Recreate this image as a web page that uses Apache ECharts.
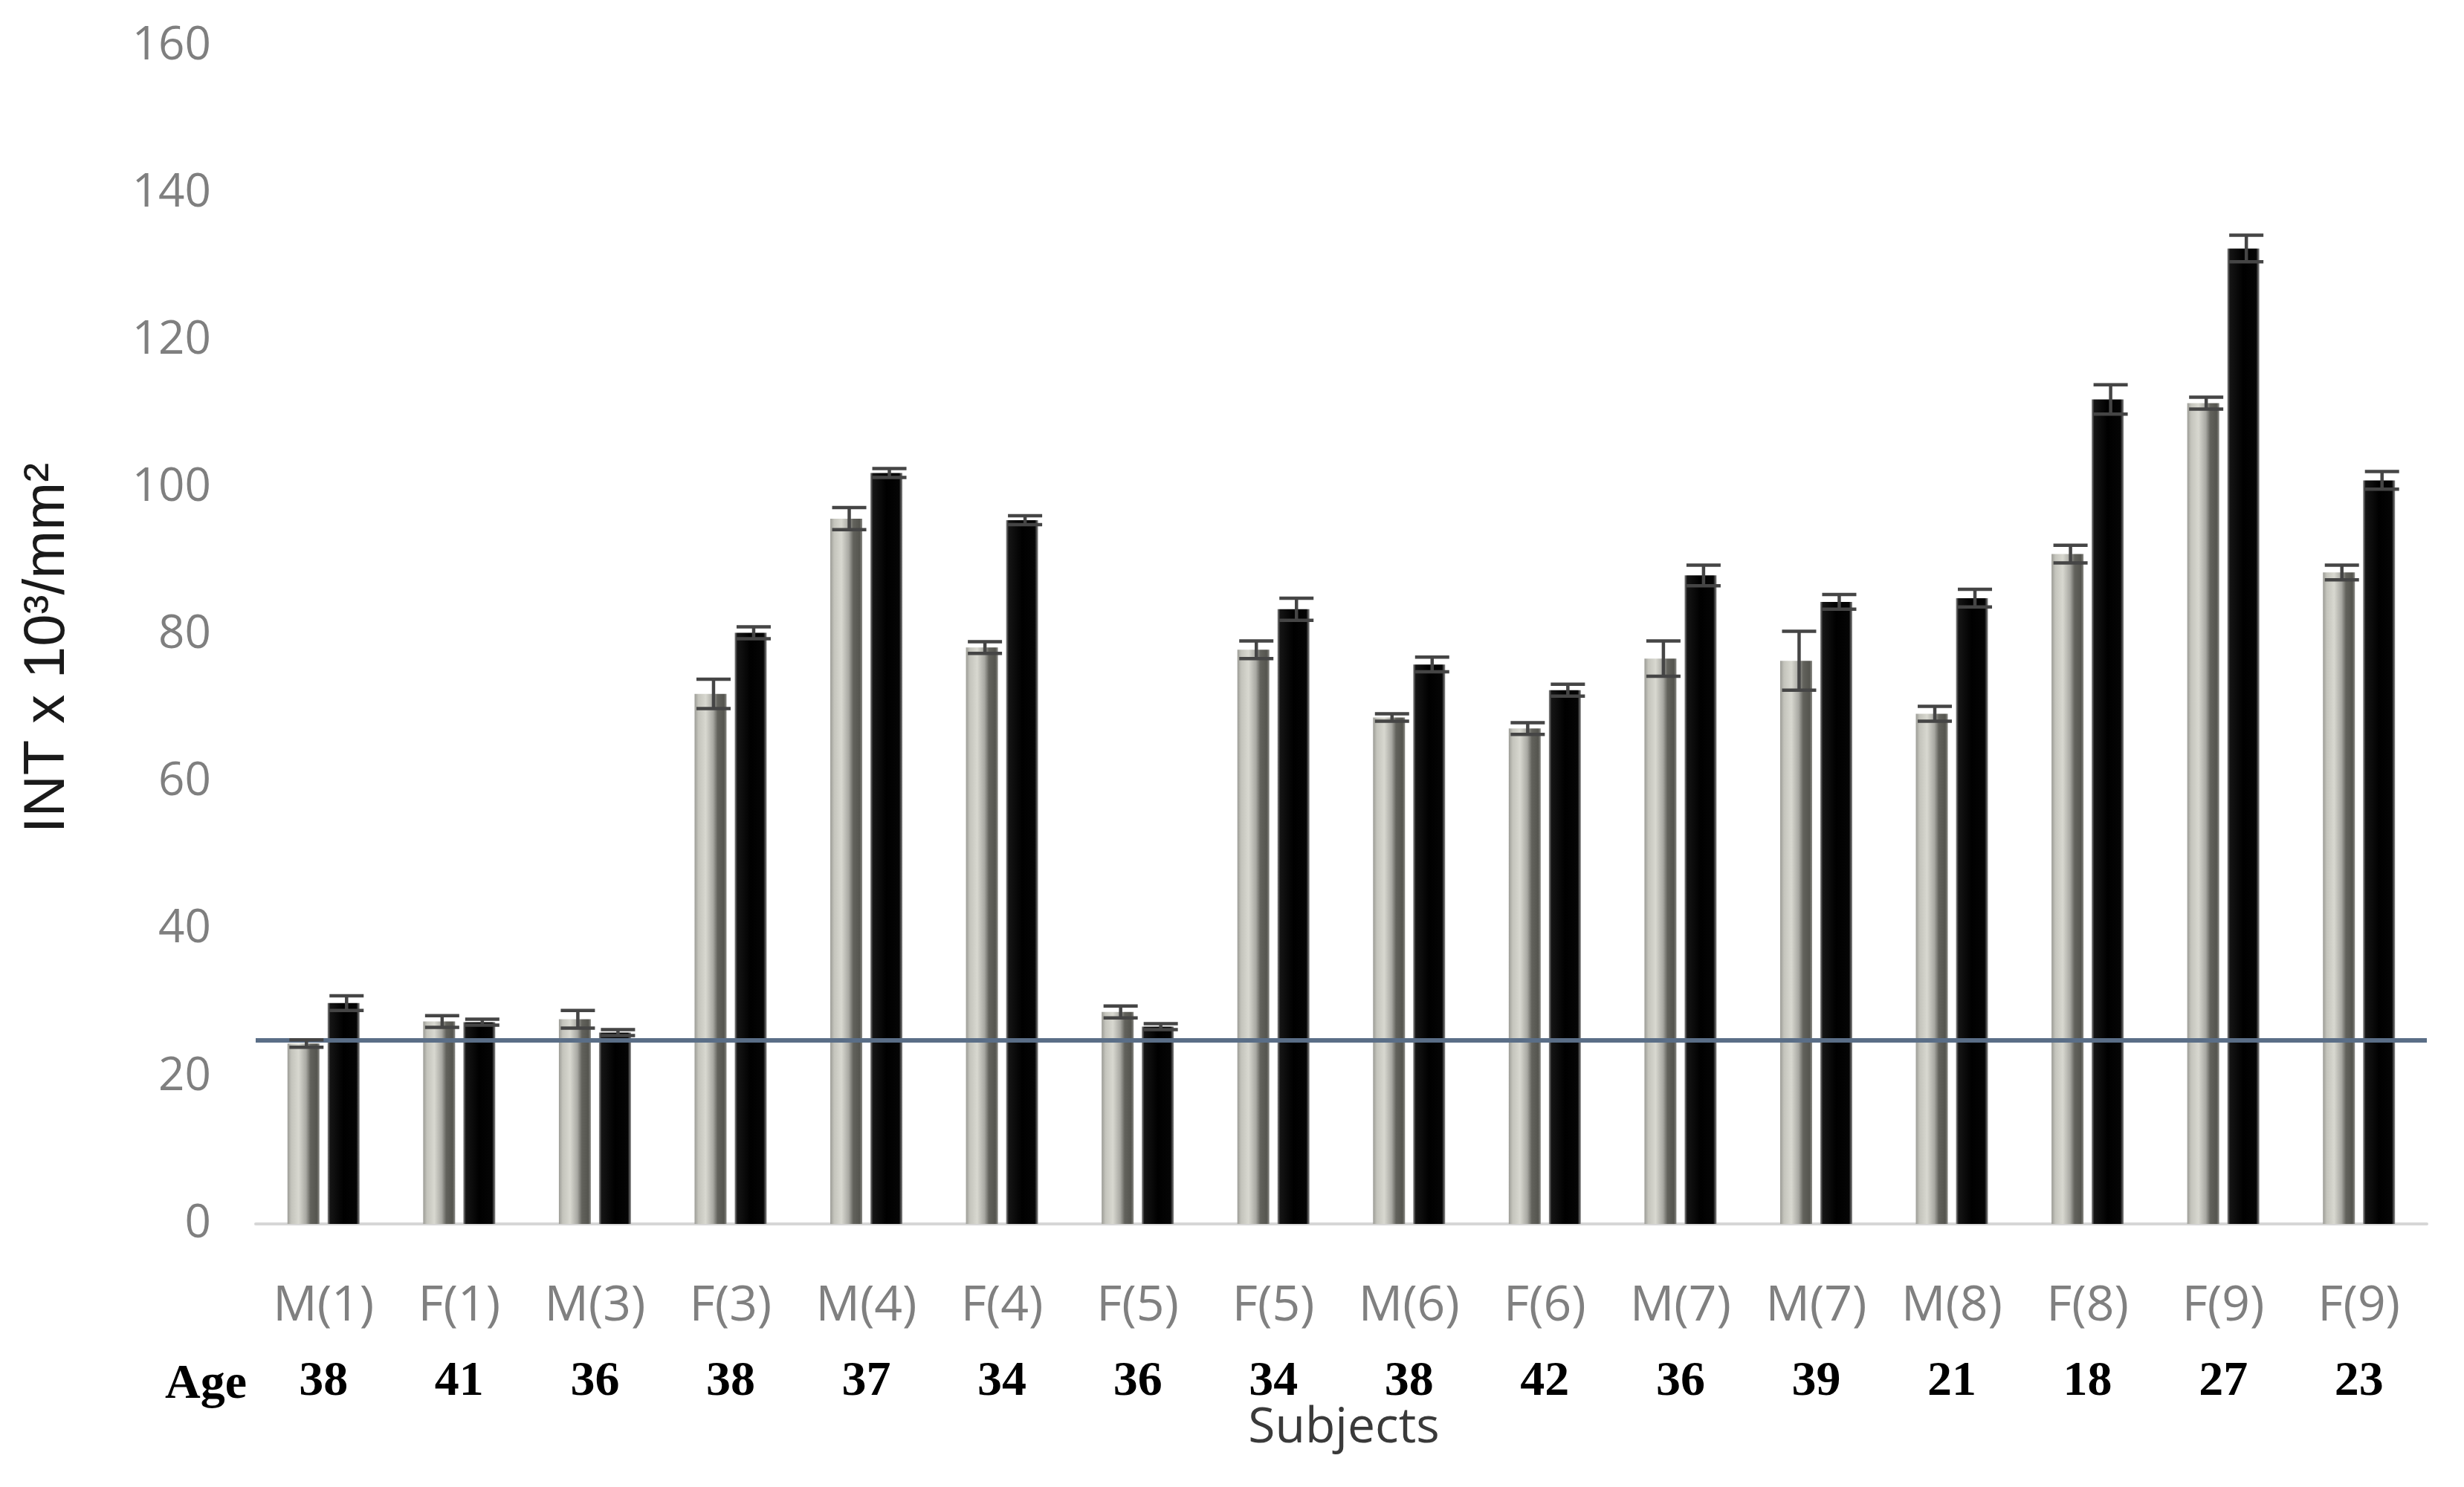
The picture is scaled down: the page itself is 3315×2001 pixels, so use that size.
<!DOCTYPE html>
<html>
<head>
<meta charset="utf-8">
<script src="https://cdn.jsdelivr.net/npm/echarts@6/dist/echarts.min.js"></script>
<style>
  html, body { margin: 0; padding: 0; background: #ffffff; }
  #chart { width: 3315px; height: 2001px; }
</style>
</head>
<body>
<div id="chart"></div>
<script>
// ---- data ----
const subjects = ['M(1)', 'F(1)', 'M(3)', 'F(3)', 'M(4)', 'F(4)', 'F(5)', 'F(5)', 'M(6)', 'F(6)', 'M(7)', 'M(7)', 'M(8)', 'F(8)', 'F(9)', 'F(9)'];
const ages = ['38', '41', '36', '38', '37', '34', '36', '34', '38', '42', '36', '39', '21', '18', '27', '23'];
const grayValues = [24.5, 27.5, 27.8, 72, 95.8, 78.3, 28.8, 78, 68.8, 67.3, 76.8, 76.5, 69.3, 91, 111.5, 88.5];
const grayErrors = [0.5, 0.8, 1.2, 2, 1.5, 0.8, 0.8, 1.2, 0.5, 0.8, 2.4, 4, 1, 1.2, 0.8, 1];
const blackValues = [30, 27.4, 26, 80.3, 102, 95.6, 26.8, 83.5, 76, 72.5, 88.1, 84.5, 85, 112, 132.5, 101];
const blackErrors = [1, 0.4, 0.4, 0.8, 0.6, 0.6, 0.4, 1.5, 1, 0.8, 1.4, 1, 1.2, 2, 1.8, 1.2];
const thresholdValue = 25;
const yTicks = { min: 0, max: 160, interval: 20 };

// ---- styles ----
const BAR_W = 43;
const BAR_GAP = 11;
const grayFill = {
  type: 'linear', x: 0, y: 0, x2: 1, y2: 0,
  colorStops: [
    { offset: 0, color: '#9c9c96' },
    { offset: 0.12, color: '#c4c4bc' },
    { offset: 0.35, color: '#d8d8d0' },
    { offset: 0.58, color: '#a8a8a2' },
    { offset: 0.72, color: '#62625c' },
    { offset: 0.92, color: '#55554f' },
    { offset: 1, color: '#8a8a85' }
  ]
};
const blackFill = {
  type: 'linear', x: 0, y: 0, x2: 1, y2: 0,
  colorStops: [
    { offset: 0, color: '#8c8c8c' },
    { offset: 0.08, color: '#151515' },
    { offset: 0.5, color: '#000000' },
    { offset: 0.9, color: '#050505' },
    { offset: 1, color: '#8c8c8c' }
  ]
};

function errorRenderer(offsetSign) {
  return function (params, api) {
    const idx = api.value(0), v = api.value(1), e = api.value(2);
    const c = api.coord([idx, v]);
    const top = api.coord([idx, v + e]);
    const bot = api.coord([idx, v - e]);
    const x = c[0] + offsetSign * (BAR_W + BAR_GAP) / 2 + 4;
    const half = 23;
    const st = { stroke: '#454545', lineWidth: 4.5 };
    return {
      type: 'group',
      children: [
        { type: 'line', shape: { x1: x, y1: top[1], x2: x, y2: bot[1] }, style: st },
        { type: 'line', shape: { x1: x - half, y1: top[1], x2: x + half, y2: top[1] }, style: st },
        { type: 'line', shape: { x1: x - half, y1: bot[1], x2: x + half, y2: bot[1] }, style: st }
      ]
    };
  };
}

const chart = echarts.init(document.getElementById('chart'), null, { renderer: 'canvas' });
chart.setOption({
  backgroundColor: '#ffffff',
  animation: false,
  grid: { left: 344, right: 50, top: 62, bottom: 354, containLabel: false },
  xAxis: [
    {
      type: 'category',
      data: subjects,
      axisLine: { show: true, lineStyle: { color: '#d6d6d6', width: 4 } },
      axisTick: { show: false },
      axisLabel: { color: '#808080', fontFamily: 'Open Sans', fontSize: 66, margin: 78, interval: 0 }
    },
    {
      type: 'category',
      data: ages,
      position: 'bottom',
      axisLine: { show: false },
      axisTick: { show: false },
      axisLabel: { color: '#000000', fontFamily: 'Liberation Serif', fontWeight: 'bold', fontSize: 66, margin: 180, interval: 0 }
    }
  ],
  yAxis: {
    type: 'value',
    min: yTicks.min, max: yTicks.max, interval: yTicks.interval,
    axisLine: { show: false },
    axisTick: { show: false },
    splitLine: { show: false },
    axisLabel: { color: '#7f7f7f', fontFamily: 'Open Sans', fontSize: 62, margin: 60 }
  },
  series: [
    {
      type: 'bar',
      data: grayValues,
      barWidth: BAR_W,
      barGap: (BAR_GAP / BAR_W * 100) + '%',
      itemStyle: { color: grayFill },
      markLine: {
        silent: true,
        symbol: 'none',
        label: { show: false },
        lineStyle: { color: '#5a6e87', width: 6, type: 'solid' },
        data: [{ yAxis: thresholdValue }]
      }
    },
    {
      type: 'bar',
      data: blackValues,
      barWidth: BAR_W,
      itemStyle: { color: blackFill }
    },
    {
      type: 'custom',
      renderItem: errorRenderer(-1),
      data: grayValues.map((v, i) => [i, v, grayErrors[i]]),
      z: 5
    },
    {
      type: 'custom',
      renderItem: errorRenderer(1),
      data: blackValues.map((v, i) => [i, v, blackErrors[i]]),
      z: 5
    }
  ],
  graphic: [
    {
      type: 'text', x: 64, y: 872, rotation: Math.PI / 2,
      style: { text: 'INT x 10³/mm²', fill: '#1a1a1a', font: '78px "Liberation Sans"', textAlign: 'center', textVerticalAlign: 'middle' }
    },
    {
      type: 'text', x: 277, y: 1864,
      style: { text: 'Age', fill: '#000000', font: 'bold 66px "Liberation Serif"', textAlign: 'center', textVerticalAlign: 'middle' }
    },
    {
      type: 'text', x: 1808, y: 1922,
      style: { text: 'Subjects', fill: '#3a3a3a', font: '66px "Open Sans"', textAlign: 'center', textVerticalAlign: 'middle' }
    }
  ]
});
</script>
</body>
</html>
